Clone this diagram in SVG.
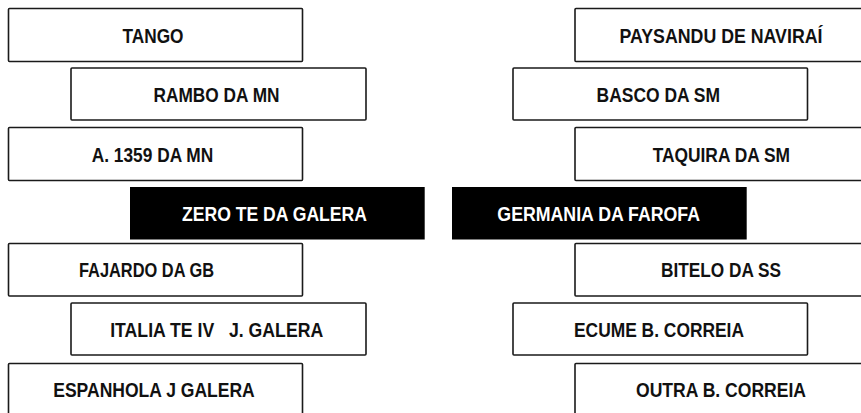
<svg xmlns="http://www.w3.org/2000/svg" width="861" height="413" viewBox="0 0 861 413">
<style>
.box{fill:#fff;stroke:#1a1a1a;stroke-width:1.6;}
.dark{fill:#000;stroke:none;}
.t{font-family:"Liberation Sans",Arial,sans-serif;font-weight:bold;font-size:21px;text-anchor:middle;fill:#111;}
.tw{font-family:"Liberation Sans",Arial,sans-serif;font-weight:bold;font-size:21px;text-anchor:middle;fill:#fff;}
</style>
<rect width="861" height="413" fill="#fff"/>
<g id="nodes">
<g id="tango"><rect class="box" x="8.5" y="8.5" width="294" height="53" rx="1"/><text class="t" x="153" y="42.6" textLength="61" lengthAdjust="spacingAndGlyphs">TANGO</text></g>
<g id="rambo"><rect class="box" x="71" y="68" width="295" height="52" rx="1"/><text class="t" x="216.5" y="101.6" textLength="126" lengthAdjust="spacingAndGlyphs">RAMBO DA MN</text></g>
<g id="a1359"><rect class="box" x="8.5" y="127.5" width="294" height="53" rx="1"/><text class="t" x="152.5" y="161.6" textLength="121.5" lengthAdjust="spacingAndGlyphs">A. 1359 DA MN</text></g>
<g id="zero"><rect class="dark" x="130" y="187" width="294.7" height="52.5"/><text class="tw" x="274.5" y="220.5" textLength="185" lengthAdjust="spacingAndGlyphs">ZERO TE DA GALERA</text></g>
<g id="fajardo"><rect class="box" x="8.5" y="243.5" width="294" height="52.5" rx="1"/><text class="t" x="146.5" y="277.3" textLength="135" lengthAdjust="spacingAndGlyphs">FAJARDO DA GB</text></g>
<g id="italia"><rect class="box" x="71" y="303" width="295" height="52" rx="1"/><text class="t" x="216.7" y="336.8" textLength="213" lengthAdjust="spacingAndGlyphs" xml:space="preserve">ITALIA TE IV   J. GALERA</text></g>
<g id="espanhola"><rect class="box" x="8.5" y="363.5" width="294" height="53" rx="1"/><text class="t" x="154" y="397.3" textLength="201.5" lengthAdjust="spacingAndGlyphs">ESPANHOLA J GALERA</text></g>
<g id="paysandu"><rect class="box" x="575" y="8.5" width="295" height="53" rx="1"/><text class="t" x="721" y="42.6" textLength="203" lengthAdjust="spacingAndGlyphs">PAYSANDU DE NAVIRAÍ</text></g>
<g id="basco"><rect class="box" x="513" y="68" width="294.5" height="52" rx="1"/><text class="t" x="658.3" y="101.6" textLength="123.5" lengthAdjust="spacingAndGlyphs">BASCO DA SM</text></g>
<g id="taquira"><rect class="box" x="575" y="127.5" width="295" height="53" rx="1"/><text class="t" x="721.3" y="161.6" textLength="137.3" lengthAdjust="spacingAndGlyphs">TAQUIRA DA SM</text></g>
<g id="germania"><rect class="dark" x="452" y="187" width="294.7" height="52.5"/><text class="tw" x="598.7" y="220.5" textLength="202.7" lengthAdjust="spacingAndGlyphs">GERMANIA DA FAROFA</text></g>
<g id="bitelo"><rect class="box" x="575" y="243.5" width="295" height="52.5" rx="1"/><text class="t" x="721" y="277.3" textLength="120" lengthAdjust="spacingAndGlyphs">BITELO DA SS</text></g>
<g id="ecume"><rect class="box" x="513" y="303" width="294.5" height="52" rx="1"/><text class="t" x="659" y="336.8" textLength="170" lengthAdjust="spacingAndGlyphs">ECUME B. CORREIA</text></g>
<g id="outra"><rect class="box" x="575" y="363.5" width="295" height="53" rx="1"/><text class="t" x="721" y="397.3" textLength="170" lengthAdjust="spacingAndGlyphs">OUTRA B. CORREIA</text></g>
</g>
<g id="connectors"/>
</svg>
